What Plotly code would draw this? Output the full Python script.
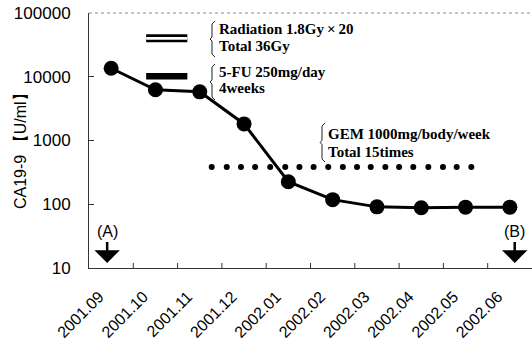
import plotly.graph_objects as go

# ---- data ----
months = ["2001.09", "2001.10", "2001.11", "2001.12", "2002.01",
          "2002.02", "2002.03", "2002.04", "2002.05", "2002.06"]
month_idx = list(range(len(months)))
ca199 = [13600, 6250, 5800, 1820, 226, 118, 91, 88, 90, 90]

# treatment periods (x in month index units)
radiation_x = [0.79, 1.72]
radiation_level = 40000
fu_x = [0.79, 1.72]
fu_level = 10200
gem_x = [2.27, 2.61, 2.93, 3.25, 3.59, 3.93, 4.25, 4.57, 4.90, 5.23,
         5.55, 5.86, 6.19, 6.50, 6.82, 7.16, 7.49, 7.80, 8.13]
gem_level = 385

y_ticks = [10, 100, 1000, 10000, 100000]
y_ticktext = ["10", "100", "1000", "10000", "100000"]

# ---- layout helpers (pixel -> paper) ----
L, R, T, B = 89, 532, 13, 268
def px(x):
    return (x - L) / (R - L)
def py(y):
    return (B - y) / (B - T)

sans = "Liberation Sans, Arial, sans-serif"
serif = "Liberation Serif, Times New Roman, serif"

fig = go.Figure()

# Radiation: double line (black wide + white thin)
fig.add_trace(go.Scatter(x=radiation_x, y=[radiation_level] * 2, mode="lines",
                         line=dict(color="black", width=8), hoverinfo="skip"))
fig.add_trace(go.Scatter(x=radiation_x, y=[radiation_level] * 2, mode="lines",
                         line=dict(color="white", width=2.6), hoverinfo="skip"))
# 5-FU: thick bar
fig.add_trace(go.Scatter(x=fu_x, y=[fu_level] * 2, mode="lines",
                         line=dict(color="black", width=6.5), hoverinfo="skip"))
# GEM: dots
fig.add_trace(go.Scatter(x=gem_x, y=[gem_level] * len(gem_x), mode="markers",
                         marker=dict(color="black", size=6), hoverinfo="skip"))
# CA19-9 line
fig.add_trace(go.Scatter(x=month_idx, y=ca199, mode="lines+markers",
                         line=dict(color="black", width=3),
                         marker=dict(color="black", size=15)))

annotations = []
# treatment labels (one annotation per line)
for text, x, y in [("Radiation 1.8Gy\u2009\u00d7\u200920", 217, 29),
                   ("Total 36Gy", 217, 45.5),
                   ("5-FU 250mg/day", 217, 71.5),
                   ("4weeks", 217, 88.5),
                   ("GEM 1000mg/body/week", 326, 134),
                   ("Total 15times", 326, 152)]:
    annotations.append(dict(text="<b>" + text + "</b>", xref="paper", yref="paper",
                            x=px(x), y=py(y), xanchor="left", yanchor="middle",
                            align="left", showarrow=False,
                            font=dict(family=serif, size=15, color="black")))

# (A) / (B) arrows
for text, xi in [("(A)", -0.09), ("(B)", 9.11)]:
    annotations.append(dict(text=text, x=xi, y=1.08, xref="x", yref="y",
                            showarrow=True, ax=0, ay=-31, arrowhead=1,
                            arrowsize=1.7, arrowwidth=2.5, arrowcolor="black",
                            font=dict(family=sans, size=16, color="black")))

# y-axis title
annotations.append(dict(text="CA19-9 \u3010U/ml\u3011", xref="paper", yref="paper",
                        x=px(20), y=py(147), textangle=-90, showarrow=False,
                        xanchor="center", yanchor="middle",
                        font=dict(family=sans, size=16, color="black")))

shapes = []
# braces
def brace(x, y0, y1):
    ym = (y0 + y1) / 2
    pts = [(x + 3, y0), (x, y0 + 3), (x, ym - 2), (x - 2, ym), (x, ym + 2),
           (x, y1 - 3), (x + 3, y1)]
    d = "M " + " L ".join(f"{px(a):.5f},{py(b):.5f}" for a, b in pts)
    return dict(type="path", path=d, xref="paper", yref="paper",
                line=dict(color="#222", width=1))
shapes.append(brace(212, 21, 57))
shapes.append(brace(212, 64, 100))
shapes.append(brace(322, 123, 162))
# faint top border
shapes.append(dict(type="line", xref="paper", yref="paper", x0=0, x1=1, y0=1, y1=1,
                   line=dict(color="#888", width=1, dash="dot")))
# x tick marks between months (category boundaries), pointing inward
for b in [i + 0.5 for i in month_idx[:-1]]:
    shapes.append(dict(type="line", xref="x", yref="paper", x0=b, x1=b,
                       y0=0, y1=5 / (B - T), line=dict(color="#333", width=1)))

fig.update_layout(
    width=532, height=341,
    margin=dict(l=L, r=0, t=T, b=341 - B, autoexpand=False),
    plot_bgcolor="white", paper_bgcolor="white",
    showlegend=False,
    annotations=annotations, shapes=shapes,
    xaxis=dict(range=[-0.5, 9.5], tickmode="array", tickvals=month_idx,
               ticktext=months, tickangle=-45, ticks="", showgrid=False,
               automargin=False,
               zeroline=False, showline=True, linecolor="#333", linewidth=1,
               ticklabelstandoff=12, ticklabelshift=-12,
               tickfont=dict(family=sans, size=16, color="black")),
    yaxis=dict(type="log", range=[1, 5], tickmode="array", tickvals=y_ticks,
               ticktext=y_ticktext, ticks="inside", ticklen=5, tickcolor="#333",
               automargin=False,
               showgrid=False, zeroline=False, showline=True, linecolor="#333",
               linewidth=1, ticklabelstandoff=14,
               tickfont=dict(family=sans, size=17, color="black")),
)

fig.write_html("out.html", config={"displayModeBar": False},
               post_script="document.body.style.margin='0';document.body.style.padding='0';")
